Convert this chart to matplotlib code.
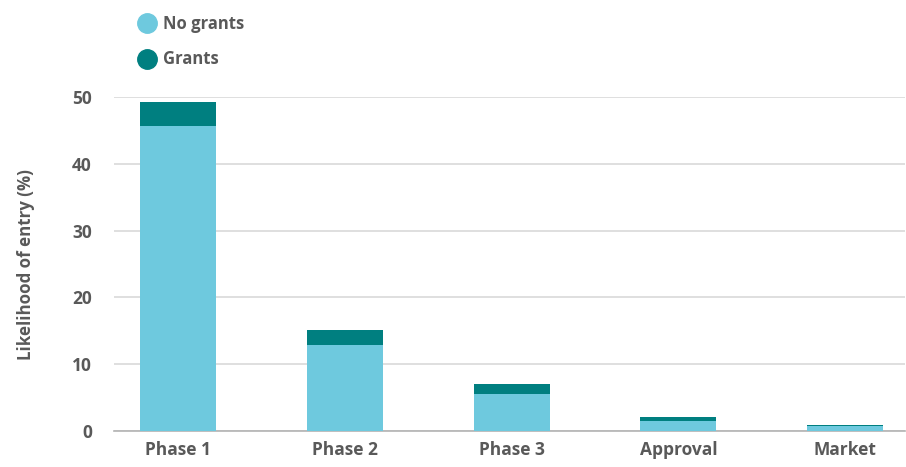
import numpy as np
import matplotlib.pyplot as plt
from matplotlib.lines import Line2D

plt.rcParams['font.family'] = ['Open Sans', 'DejaVu Sans']
plt.rcParams['font.weight'] = 'bold'
plt.rcParams['axes.labelweight'] = 'bold'

# Datos
phases = ['Phase 1', 'Phase 2', 'Phase 3', 'Approval', 'Market']
no_grants = [45.7, 12.9, 5.5, 1.5, 0.75]
grants_extra = [3.6, 2.2, 1.5, 0.6, 0.15]

c_light = '#6ec9de'
c_dark = '#007f80'
c_text = '#595959'

fig = plt.figure(figsize=(9.06, 4.67), dpi=100)
ax = fig.add_axes([0.126, 0.077, 0.873, 0.715])

x = np.arange(len(phases))
ax.bar(x, no_grants, width=0.455, color=c_light, zorder=3)
ax.bar(x, grants_extra, width=0.455, bottom=no_grants, color=c_dark, zorder=3)

ax.set_xlim(-0.385, 4.36)
ax.set_ylim(0, 50)
ax.set_yticks([0, 10, 20, 30, 40, 50])
ax.yaxis.grid(True, color='#d9d9d9', linewidth=1.2, zorder=0)
ax.set_axisbelow(True)

for s in ['top', 'right', 'left']:
    ax.spines[s].set_visible(False)
ax.spines['bottom'].set_color('#b3b3b3')
ax.spines['bottom'].set_linewidth(1.2)

ax.set_xticks(x)
ax.set_xticklabels(phases, fontweight='bold')
for lab in ax.get_yticklabels():
    lab.set_fontweight('bold')
ax.tick_params(length=0, labelsize=12.5, labelcolor=c_text)
ax.tick_params(axis='y', pad=16)
ax.tick_params(axis='x', pad=7)

ax.set_ylabel('Likelihood of entry (%)', fontsize=12.2, color=c_text,
              fontweight='bold', labelpad=27)

handles = [Line2D([], [], marker='o', linestyle='', markersize=14, color=c_light),
           Line2D([], [], marker='o', linestyle='', markersize=14, color=c_dark)]
fig.legend(handles, ['No grants', 'Grants'], loc='upper left',
           bbox_to_anchor=(0.135, 1.0), frameon=False,
           prop={'size': 12, 'weight': 'bold'},
           labelcolor=c_text, handletextpad=0.35, labelspacing=1.05,
           handlelength=1.2)

plt.savefig('out.png', dpi=100)
